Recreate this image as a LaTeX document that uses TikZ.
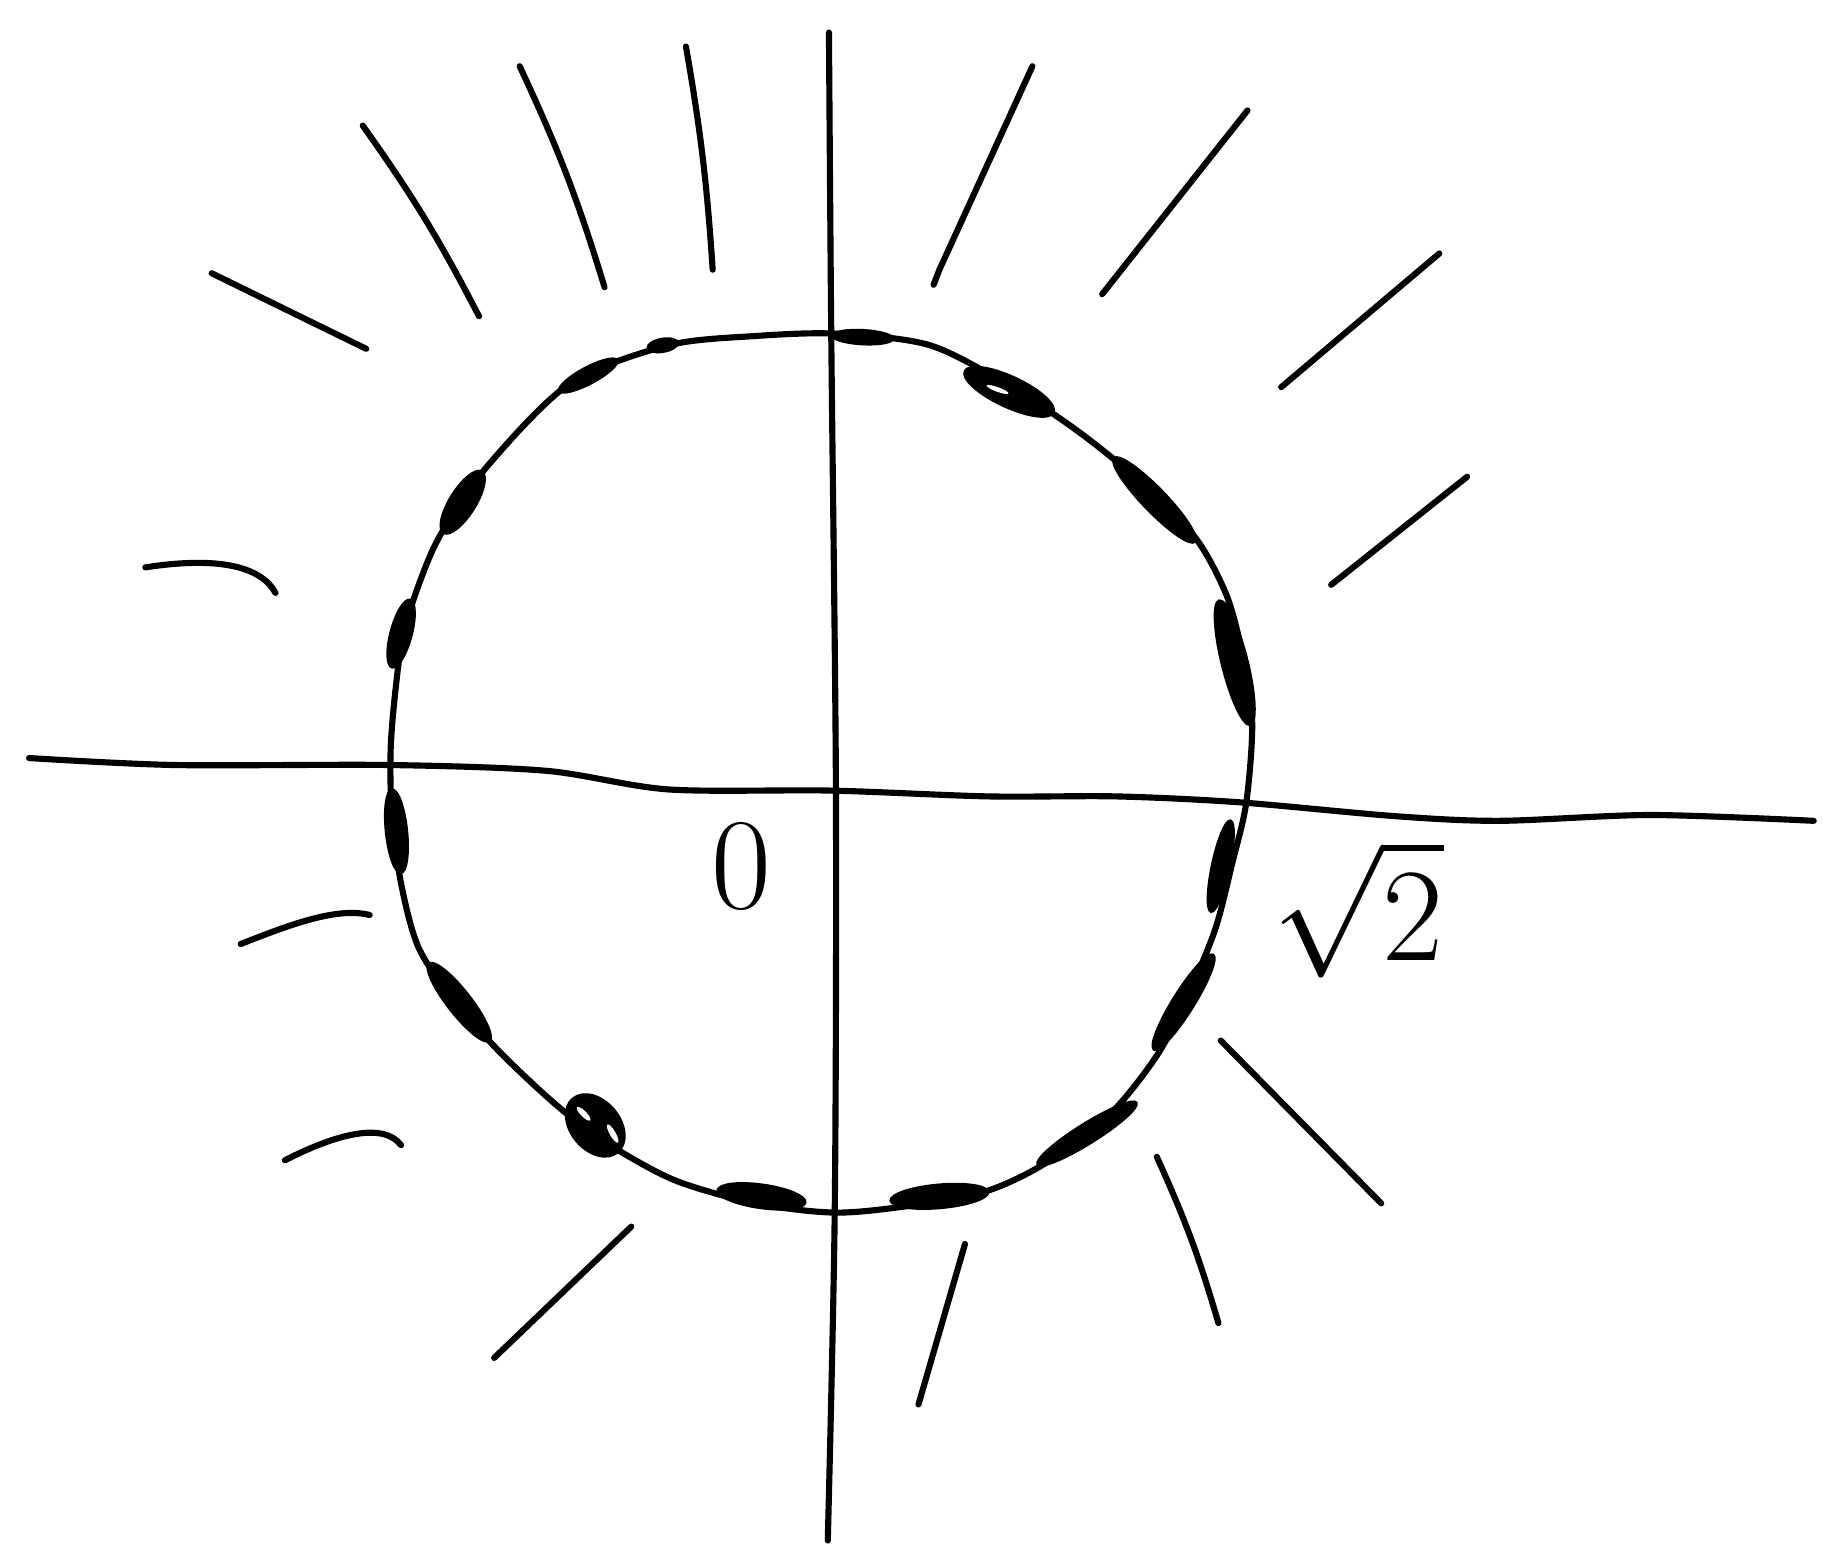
\documentclass[tikz,border=0pt]{standalone}
\usepackage{amsmath}
\usepackage{tikz}
\usetikzlibrary{shapes.geometric}

\begin{document}
\begin{tikzpicture}[
  x=0.01cm, y=-0.01cm,
  pen/.style={line width=1.5pt, line cap=round, line join=round},
  blob/.style={ellipse, fill=black, draw=black, line width=0.6pt, inner sep=0pt},
  slit/.style={ellipse, fill=white, inner sep=0pt},
  hand/.style={font=\Huge, scale=1.28, transform shape}
]
  \useasboundingbox (0,0) rectangle (1568,1336);

  % axes
  \draw[pen] plot[smooth] coordinates {(25,652) (150,658) (335,658) (470,663) (575,679)
    (715,680) (850,685) (960,685) (1065,690) (1200,702) (1290,706) (1420,701) (1560,706)};
  \draw[pen] plot[smooth] coordinates {(713,28) (715,290) (719,680) (718,1040) (712,1325)};

  % the circle
  \draw[pen] plot[smooth cycle] coordinates {(720,287) (800,297) (870,333) (930,373) (990,422)
    (1030,465) (1055,512) (1068,560) (1077,620) (1072,690) (1060,742) (1045,800) (1020,860)
    (995,908) (955,958) (900,1000) (850,1024) (790,1036) (720,1043) (650,1035) (580,1015)
    (520,982) (478,950) (430,905) (390,860) (360,815) (345,760) (337,700) (336,645) (340,595)
    (347,545) (362,498) (380,458) (420,400) (490,330) (575,297) (650,289)};

  % marks on the circle
  \node[blob, minimum width=0.52cm, minimum height=0.12cm, rotate=-3] (b1) at (742,290) {};
  \node[blob, minimum width=0.26cm, minimum height=0.11cm, rotate=10] (b2) at (570,297) {};
  \node[blob, minimum width=0.56cm, minimum height=0.14cm, rotate=28] (b3) at (506,323) {};
  \node[blob, minimum width=0.62cm, minimum height=0.22cm, rotate=58] (b4) at (398,432) {};
  \node[blob, minimum width=0.6cm, minimum height=0.18cm, rotate=75] (b5) at (345,545) {};
  \node[blob, minimum width=0.72cm, minimum height=0.18cm, rotate=-84] (b6) at (341,715) {};
  \node[blob, minimum width=0.84cm, minimum height=0.2cm, rotate=-52] (b7) at (395,862) {};
  \node[blob, minimum width=0.6cm, minimum height=0.42cm, rotate=-50] (b8) at (512,968) {};
  \node[slit, minimum width=0.16cm, minimum height=0.05cm, rotate=-45] (s8a) at (502,958) {};
  \node[slit, minimum width=0.18cm, minimum height=0.05cm, rotate=-60] (s8b) at (527,975) {};
  \node[blob, minimum width=0.76cm, minimum height=0.2cm, rotate=-8] (b9) at (655,1029) {};
  \node[blob, minimum width=0.84cm, minimum height=0.2cm, rotate=5] (b10) at (808,1029) {};
  \node[blob, minimum width=1.0cm, minimum height=0.17cm, rotate=32] (b11) at (935,975) {};
  \node[blob, minimum width=0.96cm, minimum height=0.18cm, rotate=58] (b12) at (1018,862) {};
  \node[blob, minimum width=0.8cm, minimum height=0.15cm, rotate=78] (b13) at (1050,745) {};
  \node[blob, minimum width=1.1cm, minimum height=0.22cm, rotate=-76] (b14) at (1062,570) {};
  \node[blob, minimum width=1.0cm, minimum height=0.2cm, rotate=-46] (b15) at (993,430) {};
  \node[blob, minimum width=0.84cm, minimum height=0.26cm, rotate=-25] (b16) at (868,337) {};
  \node[slit, minimum width=0.2cm, minimum height=0.04cm, rotate=-20] (s16) at (858,335) {};

  % rays
  \draw[pen] (182,235) -- (315,300);
  \draw[pen] (312,108) to[bend left=4] (412,272);
  \draw[pen] (447,57) to[bend left=4] (520,247);
  \draw[pen] (590,40) to[bend left=3] (613,232);
  \draw[pen] (888,57) -- (808,232) -- (803,245);
  \draw[pen] (1073,95) -- (948,253);
  \draw[pen] (1238,218) -- (1102,333);
  \draw[pen] (1262,410) -- (1145,503);
  \draw[pen] (125,488) .. controls (190,478) and (225,488) .. (237,510);
  \draw[pen] (207,812) .. controls (250,795) and (290,780) .. (318,787);
  \draw[pen] (245,998) .. controls (290,975) and (330,965) .. (345,985);
  \draw[pen] (543,1055) -- (425,1168);
  \draw[pen] (830,1070) -- (790,1208);
  \draw[pen] (995,995) to[bend left=4] (1048,1138);
  \draw[pen] (1050,895) -- (1188,1035);

  % labels
  \node[hand] (zero) at (638,745) {$0$};
  \node[hand, scale=1.02] (rt) at (1168,782) {$\sqrt{2}$};
\end{tikzpicture}
\end{document}
